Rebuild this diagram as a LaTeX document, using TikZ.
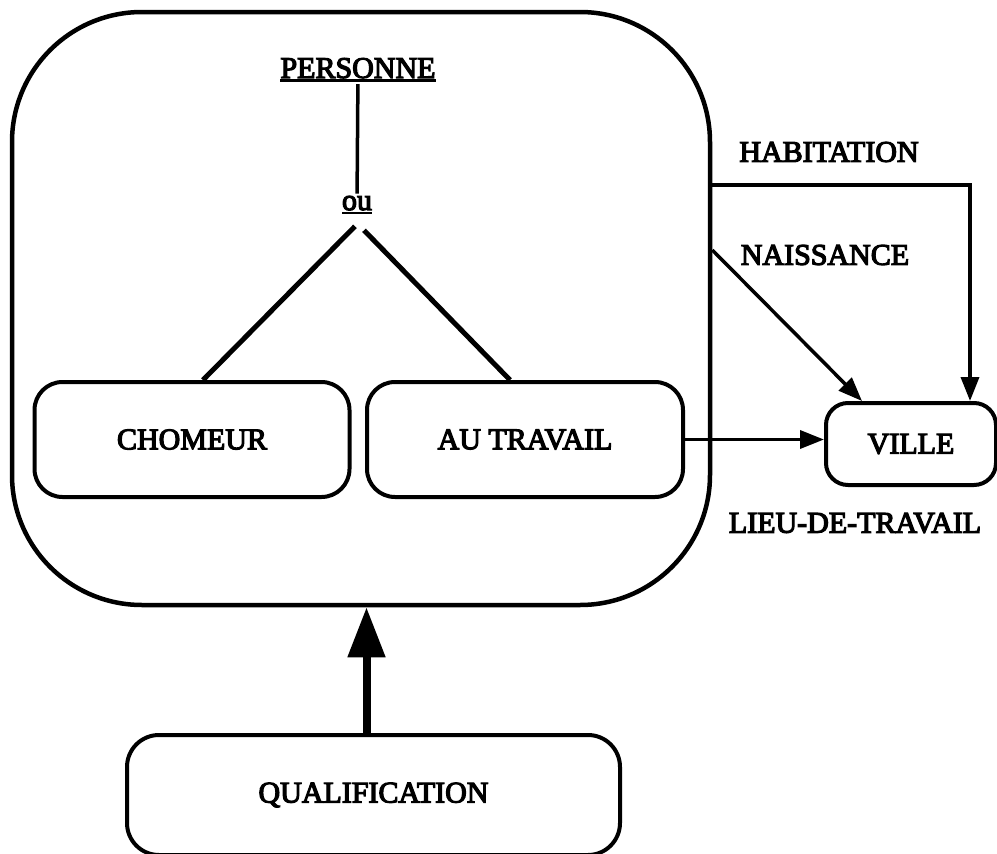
\documentclass[tikz,border=0pt]{standalone}
\usepackage{fontspec}
\setmainfont{Liberation Serif}[FakeBold=4]
\usetikzlibrary{arrows.meta}

% soulignement epais
\newcommand\souligne[1]{\setbox0\hbox{#1}\rlap{\rule[-4pt]{\wd0}{2.5pt}}\box0}

\tikzset{
  texte/.style={font=\fontsize{30}{34}\selectfont, inner sep=2pt},
  boite/.style={draw, line width=4pt, rounded corners=28pt, minimum height=115pt},
  lien/.style={line width=3.5pt},
  branche/.style={line width=5pt},
}

\begin{document}
\begin{tikzpicture}[x=1pt, y=-1pt, >={Triangle[length=24pt, width=18pt]}]
    \useasboundingbox (0,0) rectangle (997,854);

    % grand cadre de la personne
    \node[draw, line width=4.5pt, rounded corners=130pt,
          minimum width=698pt, minimum height=593pt] (personne) at (361,308.5) {};

    % titres
    \node[texte] (titre) at (358,70) {\souligne{PERSONNE}};
    \node[texte] (ou) at (357,205) {\souligne{ou}};

    % les deux sous-classes
    \node[boite, texte, minimum width=315pt] (chomeur) at (192,439.5) {CHOMEUR};
    \node[boite, texte, minimum width=316pt] (autravail) at (525,439.5) {AU TRAVAIL};

    % VILLE et QUALIFICATION
    \node[boite, texte, minimum width=170pt, minimum height=82pt,
          rounded corners=22pt] (ville) at (911,444) {VILLE};
    \node[boite, texte, minimum width=493pt, minimum height=120pt,
          rounded corners=32pt] (qualification) at (373.5,795) {QUALIFICATION};

    % noms des liens
    \node[texte] (habitation) at (829,152) {HABITATION};
    \node[texte] (naissance) at (825,255) {NAISSANCE};
    \node[texte] (lieutravail) at (855,523) {LIEU-DE-TRAVAIL};

    % -------------------------------------------------------------
    % specialisation : PERSONNE -> ou -> CHOMEUR / AU TRAVAIL
    % -------------------------------------------------------------
    \draw[lien] (titre) -- (ou);
    \draw[branche] ([shift={(-2,10)}]ou.south) -- ([xshift=11]chomeur.north);
    \draw[branche] ([shift={(7,14)}]ou.south) -- ([xshift=-15]autravail.north);

    % -------------------------------------------------------------
    % liens vers VILLE
    % -------------------------------------------------------------
    \coordinate (hab) at (personne.east |- 0,185);
    \coordinate (nais) at (personne.east |- 0,250);
    \draw[lien, ->] (hab) -| ([xshift=59]ville.north);
    \draw[lien, ->] (nais) -- ([xshift=-49]ville.north);
    \draw[lien, ->] (autravail.east) -- (autravail.east -| ville.west);

    % lien QUALIFICATION -> PERSONNE (fleche epaisse)
    \draw[line width=8pt, -{Triangle[length=50pt, width=36pt]}]
        ([xshift=-7]qualification.north) -- ([xshift=-7]qualification.north |- personne.south);

\end{tikzpicture}
\end{document}
